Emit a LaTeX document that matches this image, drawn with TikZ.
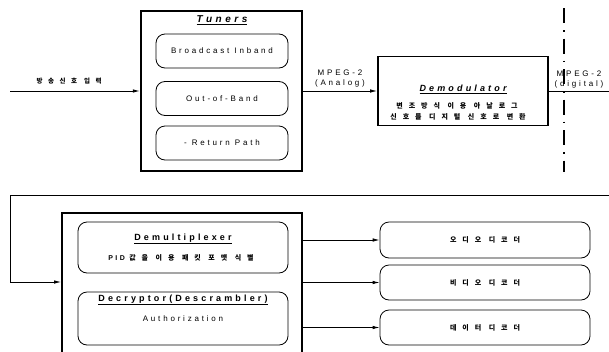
\documentclass[tikz,border=0pt]{standalone}
\usepackage{fontspec}
\setmainfont{Liberation Sans}[LetterSpace=35]
\newfontfamily\kr{Noto Sans CJK KR}[LetterSpace=85]
\usetikzlibrary{arrows.meta}
\begin{document}
\begin{tikzpicture}[x=1pt,y=-1pt,
  bigbox/.style={draw, line width=1.8pt, inner sep=0pt},
  rbox/.style={draw, rounded corners=9pt, line width=0.8pt, inner sep=0pt},
  arr/.style={-{Latex[length=7pt,width=3.5pt]}, line width=0.8pt},
  conn/.style={line width=0.8pt},
  lbl/.style={inner sep=0pt, font=\fontsize{8}{9}\selectfont},
  ttl/.style={inner sep=0pt, font=\fontsize{9}{10}\selectfont\bfseries},
  krl/.style={inner sep=0pt, font=\fontsize{7}{8}\selectfont\kr\bfseries}]
\useasboundingbox (0,0) rectangle (609,351);
\clip (0,0) rectangle (609,351);
% Tuners
\node[bigbox, line width=2.4pt, minimum width=161pt, minimum height=160pt] (tun) at (221.5,91) {};
\node[ttl, font=\fontsize{10}{11}\selectfont\bfseries] (tunT) at (222,20) {\itshape\underline{Tuners}};
\node[rbox, minimum width=132pt, minimum height=34pt] (bi) at (222,51) {};
\node[lbl] (biT) at (bi) {Broadcast Inband};
\node[rbox, minimum width=132pt, minimum height=34pt] (oob) at (222,98.5) {};
\node[lbl] (oobT) at (oob) {Out-of-Band};
\node[rbox, minimum width=132pt, minimum height=34pt] (rp) at (222,143) {};
\node[lbl] (rpT) at (rp) {- Return Path};
% input
\coordinate (in) at (10,91);
\draw[arr] (in) -- (tun.west);
\node[krl, font=\fontsize{6.5}{8}\selectfont\kr\bfseries] (inT) at (69,81) {방송신호 입력};
% Demodulator
\node[bigbox, minimum width=170pt, minimum height=69pt] (dem) at (463,91) {};
\node[ttl] (demT) at (463,89) {\itshape\underline{Demodulator}};
\node[krl] (dem1) at (457,106) {변조방식 이용 아날로그};
\node[krl] (dem2) at (458,117) {신호를 디지털 신호로 변환};
\draw[arr] (tun.east) -- (dem.west);
\node[lbl] (an1) at (340,73) {MPEG-2};
\node[lbl] (an2) at (340,83) {(Analog)};
% output
\coordinate (out) at (609,91);
\draw[conn] (dem.east) -- (out);
\node[lbl] (dg1) at (579,74) {MPEG-2};
\node[lbl] (dg2) at (579,84) {(digital)};
\coordinate (v1) at (564,8);
\coordinate (v2) at (564,172);
\draw[line width=2.2pt, dash pattern=on 15pt off 7pt on 1.5pt off 7pt] (v1) -- (v2);
% bottom
\node[bigbox, minimum width=240pt, minimum height=145pt] (outer) at (182,285.5) {};
\coordinate (r) at (609,195);
\coordinate (c1) at (10,195);
\coordinate (fb) at (10,282);
\draw[arr] (r) -- (c1) -- (fb) -- (fb -| outer.west);
\node[rbox, minimum width=210pt, minimum height=51pt] (mux) at (183,247.5) {};
\node[ttl] (muxT) at (183,239) {\underline{Demultiplexer}};
\node[krl] (muxS) at (181,258) {\fontspec{Liberation Sans}[LetterSpace=35]PID {\kr 값을 이용 패킷 포맷 식별}};
\node[rbox, minimum width=210pt, minimum height=53pt] (dec) at (183,318.5) {};
\node[ttl] (decT) at (183,300) {\underline{Decryptor(Descrambler)}};
\node[lbl] (decS) at (183,319) {Authorization};
% decoders
\node[rbox, minimum width=210pt, minimum height=36pt] (d1) at (485,240) {};
\node[krl] (d1T) at (d1) {오디오 디코더};
\node[rbox, minimum width=210pt, minimum height=35pt] (d2) at (485,282.5) {};
\node[krl] (d2T) at (d2) {비디오 디코더};
\node[rbox, minimum width=210pt, minimum height=35pt] (d3) at (485,327.5) {};
\node[krl] (d3T) at (d3) {데이터 디코더};
\draw[arr] (d1.west -| outer.east) -- (d1.west);
\draw[arr] (d2.west -| outer.east) -- (d2.west);
\draw[arr] (d3.west -| outer.east) -- (d3.west);
\end{tikzpicture}
\end{document}
